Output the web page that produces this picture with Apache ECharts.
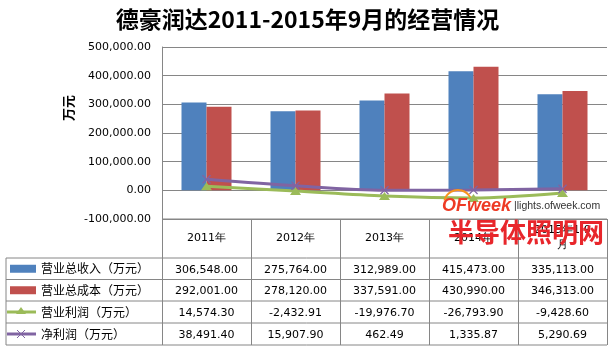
<!DOCTYPE html>
<html>
<head>
<meta charset="utf-8">
<script src="https://cdn.jsdelivr.net/npm/echarts@6/dist/echarts.min.js"></script>
<style>
  html, body { margin: 0; padding: 0; background: #fff; }
  #chart { width: 615px; height: 351px; }
</style>
</head>
<body>
<div id="chart"></div>
<script>
// 数据
var categories = ['2011年', '2012年', '2013年', '2014年', '2015年1-9\n月']
var seriesNames = ['营业总收入（万元）', '营业总成本（万元）', '营业利润（万元）', '净利润（万元）']
var revenue = [306548.00, 275764.00, 312989.00, 415473.00, 335113.00]
var cost = [292001.00, 278120.00, 337591.00, 430990.00, 346313.00]
var opProfit = [14574.30, -2432.91, -19976.70, -26793.90, -9428.60]
var netProfit = [38491.40, 15907.90, 462.49, 1335.87, 5290.69]
var yTicks = [-100000, 0, 100000, 200000, 300000, 400000, 500000]

var colors = ['#4F81BD', '#C0504D', '#9BBB59', '#8064A2']
var lineColor = '#868686'
var numFont = 'DejaVu Sans'
var cjkFont = 'Noto Sans CJK SC'

// 千分位 + 两位小数
function fmt (v) {
  var neg = v < 0
  var s = Math.abs(v).toFixed(2)
  var parts = s.split('.')
  parts[0] = parts[0].replace(/\B(?=(\d{3})+(?!\d))/g, ',')
  return (neg ? '-' : '') + parts[0] + '.' + parts[1]
}

var gridLeft = 162
var gridRight = 607
var gridTop = 47
var gridBottom = 219
var colW = (gridRight - gridLeft) / categories.length
var tableLeft = 6
var rowTops = [258, 279.5, 301, 323, 345]
var crossPath = 'path://M1,0L5,4L9,0L10,1L6,5L10,9L9,10L5,6L1,10L0,9L4,5L0,1Z'

var chart = echarts.init(document.getElementById('chart'), null, { renderer: 'canvas' })

function hline (x1, y1, x2, y2, color, w) {
  return { type: 'line', shape: { x1: x1, y1: y1, x2: x2, y2: y2 }, style: { stroke: color, lineWidth: w }, silent: true }
}

var graphics = []
// 表格横线
graphics.push(hline(gridLeft, gridBottom, gridRight, gridBottom, lineColor, 1))
rowTops.forEach(function (y) {
  graphics.push(hline(tableLeft, y, gridRight, y, lineColor, 1))
})
// 表格竖线
graphics.push(hline(tableLeft, rowTops[0], tableLeft, rowTops[4], lineColor, 1))
for (var c = 0; c <= categories.length; c++) {
  var x = Math.round(gridLeft + c * colW) + 0.5
  graphics.push(hline(x, gridBottom, x, rowTops[4], lineColor, 1))
}
// 图例列 + 数值
var tableData = [revenue, cost, opProfit, netProfit]
tableData.forEach(function (arr, r) {
  var cy = (rowTops[r] + rowTops[r + 1]) / 2
  if (r < 2) {
    graphics.push({ type: 'rect', shape: { x: 10, y: cy - 4, width: 26, height: 8 }, style: { fill: colors[r] }, silent: true })
  } else {
    graphics.push(hline(7, cy, 36, cy, colors[r], 3))
    if (r === 2) {
      graphics.push({ type: 'polygon', shape: { points: [[21, cy - 5], [26, cy + 2], [16, cy + 2]] }, style: { fill: colors[r] }, silent: true })
    } else {
      graphics.push(hline(17, cy - 4, 25, cy + 4, colors[r], 1))
      graphics.push(hline(25, cy - 4, 17, cy + 4, colors[r], 1))
    }
  }
  graphics.push({ type: 'text', x: 41, y: cy, style: { text: seriesNames[r], font: '12px "' + cjkFont + '"', fill: '#000', verticalAlign: 'middle', align: 'left' }, silent: true })
  arr.forEach(function (v, i) {
    graphics.push({ type: 'text', x: gridLeft + colW * (i + 0.5), y: cy + 1, style: { text: fmt(v), font: '11px "' + numFont + '"', fill: '#000', verticalAlign: 'middle', align: 'center' }, silent: true })
  })
})
// 纵轴名称
graphics.push({ type: 'text', x: 68, y: 108, rotation: Math.PI / 2, style: { text: '万元', font: 'bold 13px "' + cjkFont + '"', fill: '#000', align: 'center', verticalAlign: 'middle' }, silent: true })
// 水印
graphics.push({ type: 'arc', shape: { cx: 458, cy: 204, r: 14, startAngle: Math.PI * 1.08, endAngle: Math.PI * 1.85 }, style: { stroke: '#F7941D', lineWidth: 2, fill: null }, z: 100, silent: true })
graphics.push({ type: 'text', x: 442, y: 206, style: { text: 'OFweek', font: 'italic bold 18px "Liberation Sans"', fill: '#EE3A24', verticalAlign: 'middle' }, z: 100, silent: true })
graphics.push({ type: 'text', x: 514, y: 206, style: { text: '|lights.ofweek.com', font: '10.5px "Liberation Sans"', fill: '#333', verticalAlign: 'middle' }, z: 100, silent: true })
graphics.push({ type: 'text', x: 526, y: 232, style: { text: '半导体照明网', font: 'bold 26px "' + cjkFont + '"', fill: '#E8262B', align: 'center', verticalAlign: 'middle' }, z: 100, silent: true })

chart.setOption({
  backgroundColor: '#fff',
  animation: false,
  title: {
    text: '德豪润达2011-2015年9月的经营情况',
    left: 'center',
    top: 3,
    textStyle: { fontFamily: cjkFont, fontSize: 23, fontWeight: 'bold', color: '#000' }
  },
  grid: { left: gridLeft, right: 615 - gridRight, top: gridTop, bottom: 351 - gridBottom, containLabel: false },
  xAxis: {
    type: 'category',
    data: categories,
    axisLine: { show: false },
    axisTick: { show: false },
    axisLabel: {
      margin: 19,
      verticalAlign: 'middle',
      fontFamily: numFont,
      fontSize: 11,
      lineHeight: 15,
      color: '#000',
      interval: 0
    }
  },
  yAxis: {
    type: 'value',
    min: yTicks[0],
    max: yTicks[yTicks.length - 1],
    interval: 100000,
    axisLine: { show: true, lineStyle: { color: lineColor } },
    axisTick: { show: false },
    splitLine: { lineStyle: { color: lineColor, width: 1 } },
    axisLabel: {
      margin: 11,
      fontFamily: numFont,
      fontSize: 11,
      color: '#000',
      formatter: function (v) { return fmt(v) }
    }
  },
  series: [
    { name: seriesNames[0], type: 'bar', data: revenue, barWidth: 25, barGap: '0%', itemStyle: { color: colors[0] } },
    { name: seriesNames[1], type: 'bar', data: cost, barWidth: 25, barGap: '0%', itemStyle: { color: colors[1] } },
    {
      name: seriesNames[2], type: 'line', data: opProfit, smooth: 0.3,
      symbol: 'triangle', symbolSize: [11, 8],
      lineStyle: { color: colors[2], width: 3 },
      itemStyle: { color: colors[2] }
    },
    {
      name: seriesNames[3], type: 'line', data: netProfit, smooth: 0.3,
      symbol: crossPath, symbolSize: 9,
      lineStyle: { color: colors[3], width: 3 },
      itemStyle: { color: colors[3] }
    }
  ],
  graphic: graphics
})
</script>
</body>
</html>
